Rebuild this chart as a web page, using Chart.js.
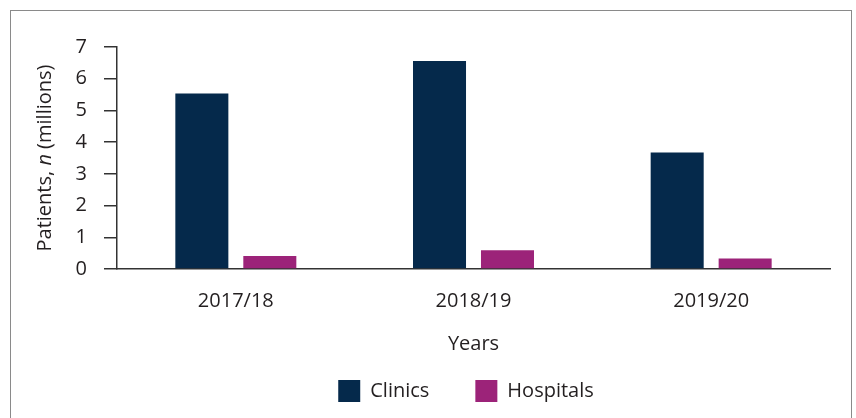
<!DOCTYPE html>
<html>
<head>
<meta charset="utf-8">
<script src="https://cdn.jsdelivr.net/npm/chart.js@4"></script>
<style>
  html, body { margin: 0; padding: 0; background: #fff; }
  #wrap { width: 856px; height: 418px; position: relative; }
</style>
</head>
<body>
<div id="wrap"><canvas id="barCanvas" width="856" height="418"></canvas></div>
<script>
// ------DATA--------
const years = ["2017/18", "2018/19", "2019/20"];
const clinics = [5.53, 6.56, 3.67];
const hospitals = [0.41, 0.59, 0.33];
const yTicks = [0, 1, 2, 3, 4, 5, 6, 7];

const ink = "#231f20";
const font = "'Open Sans', 'Noto Sans', sans-serif";

// frame round the figure, legend nudge, y title with italic n
const extras = {
    id: "extras",
    afterLayout(chart) {
        // legend sits centred under the plot, not the whole canvas
        chart.legend.left += 46;
        chart.legend.right += 46;
    },
    beforeDraw(chart) {
        const c = chart.ctx;
        c.save();
        c.strokeStyle = "#8a8a8a";
        c.lineWidth = 1;
        c.strokeRect(10.5, 10.5, 841, 430);
        c.restore();
    },
    afterDraw(chart) {
        const c = chart.ctx;
        const a = chart.chartArea;
        const parts = [
            ["normal", "Patients, "],
            ["italic", "n"],
            ["normal", " (millions)"]
        ];
        c.save();
        c.fillStyle = ink;
        c.textBaseline = "middle";
        let total = 0;
        parts.forEach(p => {
            c.font = p[0] + " 20px " + font;
            total += c.measureText(p[1]).width;
        });
        c.translate(45, (a.top + a.bottom) / 2);
        c.rotate(-Math.PI / 2);
        let x = -total / 2;
        parts.forEach(p => {
            c.font = p[0] + " 20px " + font;
            c.fillText(p[1], x, 0);
            x += c.measureText(p[1]).width;
        });
        c.restore();
    }
};

Chart.defaults.font.family = font;
Chart.defaults.font.size = 20;
Chart.defaults.color = ink;

const barChart = new Chart(document.getElementById("barCanvas"), {
    type: "bar",
    data: {
        labels: years,
        datasets: [
            {
                label: "Clinics",
                data: clinics,
                backgroundColor: "#05294b",
                borderWidth: 0,
                categoryPercentage: 0.572,
                barPercentage: 0.78
            },
            {
                label: "Hospitals",
                data: hospitals,
                backgroundColor: "#9c2379",
                borderWidth: 0,
                categoryPercentage: 0.572,
                barPercentage: 0.78
            }
        ]
    },
    options: {
        responsive: false,
        animation: false,
        devicePixelRatio: 1,
        layout: { padding: { left: 10, right: 26, top: 47, bottom: 6 } },
        plugins: {
            tooltip: { enabled: false },
            legend: {
                position: "bottom",
                labels: {
                    boxWidth: 22,
                    boxHeight: 22,
                    padding: 46,
                    font: { size: 20 },
                    color: ink
                }
            }
        },
        scales: {
            x: {
                grid: { display: false, drawTicks: false },
                border: { display: true, color: "#333", width: 1.5 },
                ticks: { padding: 20, font: { size: 20 }, color: ink },
                title: { display: true, text: "Years", padding: { top: 0, bottom: -22 }, font: { size: 20 }, color: ink },
                afterFit(scale) { scale.height = 65; }
            },
            y: {
                min: 0,
                max: 7,
                afterBuildTicks(scale) { scale.ticks = yTicks.map(v => ({ value: v })); },
                grid: { drawOnChartArea: false, drawTicks: true, tickLength: 13, color: "#333", lineWidth: 1.5 },
                border: { display: true, color: "#333", width: 1.5 },
                ticks: { padding: 17, font: { size: 20 }, color: ink },
                afterFit(scale) { scale.width = 107; }
            }
        }
    },
    plugins: [extras]
});
</script>
</body>
</html>
